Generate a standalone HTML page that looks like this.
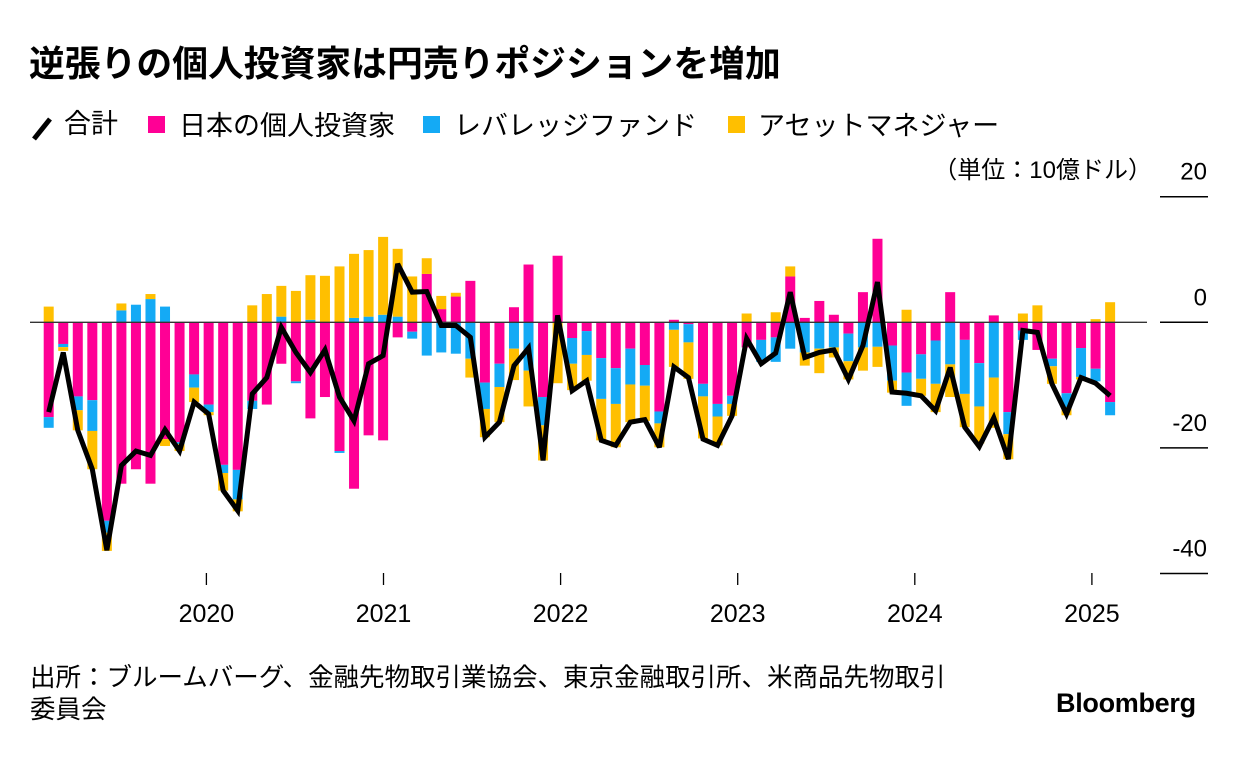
<!DOCTYPE html>
<html><head><meta charset="utf-8">
<style>
body{margin:0;background:#fff;width:1236px;height:766px;overflow:hidden;font-family:"Liberation Sans","Noto Sans CJK JP",sans-serif;color:#000}
.t{position:absolute;white-space:nowrap}
</style></head><body>
<div class="t" style="left:29px;top:38px;font-size:35.8px;font-weight:bold;font-family:'Noto Sans CJK JP',sans-serif;line-height:46px">逆張りの個人投資家は円売りポジションを増加</div>
<div style="position:absolute;left:30px;top:104px;font-size:27px;height:38px;">
  <div class="t" style="left:0;top:0">
    <svg width="24" height="36" style="vertical-align:middle"><line x1="4" y1="29" x2="20" y2="9" stroke="#000" stroke-width="5"/></svg><span style="position:relative;top:-2px;margin-left:10px">合計</span></div>
  <div class="t" style="left:118px;top:0"><span style="display:inline-block;width:17px;height:17px;background:#ff0095;vertical-align:middle;position:relative;top:-3px"></span><span style="margin-left:14px">日本の個人投資家</span></div>
  <div class="t" style="left:393px;top:0"><span style="display:inline-block;width:17px;height:17px;background:#14aaf5;vertical-align:middle;position:relative;top:-3px"></span><span style="margin-left:14px">レバレッジファンド</span></div>
  <div class="t" style="left:698px;top:0"><span style="display:inline-block;width:17px;height:17px;background:#ffbf00;vertical-align:middle;position:relative;top:-3px"></span><span style="margin-left:13px">アセットマネジャー</span></div>
</div>
<div class="t" style="right:84px;top:150px;font-size:24px;">（単位：10億ドル）</div>
<svg id="chart" width="1236" height="766" style="position:absolute;left:0;top:0"></svg>
<div class="t" style="left:30px;top:662px;font-size:25.5px;line-height:32px;">出所：ブルームバーグ、金融先物取引業協会、東京金融取引所、米商品先物取引<br>委員会</div>
<div class="t" style="left:1056px;top:688px;font-size:27px;font-weight:bold;letter-spacing:-0.3px">Bloomberg</div>
<script>
const retail=[-15.1,-3.45,-11.8,-12.4,-31.6,-25.7,-23.4,-25.7,-18.6,-19.1,-8.3,-13.1,-22.7,-23.5,-12.5,-13.1,-6.6,-9.4,-15.3,-11.9,-20.5,-26.5,-18,-18.8,-2.4,-1.5,7.7,2.1,4.1,6.6,-9.6,-6.6,2.4,9.2,-11.9,10.6,-2.5,-1.4,-5.7,-7.3,-4.2,-6.8,-14.2,0.4,-0.3,-9.8,-13,-11.7,-4,-2.8,-2.4,7.3,0.7,3.4,1.2,-1.8,4.8,13.3,-3.7,-8,-5.1,-2.9,4.8,-2.8,-6.5,1.1,-14.3,-1.3,-4.4,-5.8,-11.3,-4.1,-7.4,-12.7];
const leveraged=[-1.7,-0.5,-2.2,-4.9,-1.9,1.9,2.8,3.7,2.5,-0.3,-2.1,-1.2,-1.3,-4.7,-1.3,0,0.9,-0.3,0.4,0,-0.3,0.7,0.9,1.2,0.9,-1.1,-5.3,-4.8,-5,-5.8,-4.2,-3.7,-4.2,-7.7,-4.5,0,-4.1,-3.8,-6.5,-5.7,-5.7,-3.3,-1.9,-1.2,-2.9,-2,-2,-1.3,0,-3.5,-3.9,-4.2,-4.8,-4.2,-4,-4.4,-4,-3.9,-5.6,-5.3,-3.9,-6.9,-6.7,-8.6,-6.9,-8.8,-3.5,-1.5,0,-1.2,-2.2,-4.6,-2,-2.1];
const assetMgr=[2.5,-0.6,-3.2,-6.1,-2.9,1.1,0,0.8,-1.1,-1.1,-2.3,-0.5,-2.8,-1.9,2.7,4.5,4.9,5,7.1,7.4,8.9,10.2,10.6,12.4,10.8,7.3,2.5,2.1,0.6,-3,-4.5,-5.6,-5,-5.7,-5.6,-9.7,-4.2,-4.1,-6.6,-6.9,-6,-5.6,-3.8,-5.9,-5.8,-6.7,-4.6,-1.9,1.4,0,1.6,1.6,-2.1,-3.9,-1.6,-2.9,-3.7,-3.2,-1.9,2,-2.7,-4.5,-5.2,-5.3,-5.9,-8,-4,1.4,2.7,-2.8,-1.3,-0.4,0.5,3.2];
const total=[-14.3,-4.8,-17.2,-23.4,-36.3,-22.8,-20.5,-21.2,-17.1,-20.5,-12.7,-14.6,-26.8,-30,-11.4,-8.8,-0.8,-4.8,-8,-4.4,-11.9,-15.7,-6.6,-5.3,9.3,4.8,4.9,-0.5,-0.5,-2.4,-18.3,-15.9,-6.9,-4.1,-22,1.1,-10.9,-9.3,-18.8,-19.6,-15.9,-15.5,-19.9,-7.1,-8.8,-18.6,-19.6,-14.9,-2.6,-6.6,-4.9,4.8,-5.6,-4.8,-4.4,-9.1,-3.7,6.4,-11.1,-11.3,-11.7,-14.1,-7.2,-16.7,-19.8,-15.2,-21.8,-1.3,-1.6,-9.8,-14.6,-8.8,-9.7,-11.7];
const yTicks=[20,0,-20,-40];
const yTickLabels=["20","0","-20","-40"];
const years=["2020","2021","2022","2023","2024","2025"];
const NS="http://www.w3.org/2000/svg";
const svg=document.getElementById('chart');
const y=v=>322.3-v*6.28;
const x=i=>48.7+i*14.54;
const xYear=k=>206.4+k*177.1;
function mk(t,a){const e=document.createElementNS(NS,t);for(const k in a)e.setAttribute(k,a[k]);svg.appendChild(e);return e;}
yTicks.forEach((v,k)=>{
  const l=mk('line',{x1:1160,x2:1208,y1:y(v),y2:y(v),stroke:'#000','stroke-width':1.5});
  
  
  const t=mk('text',{x:1207,y:y(v)-17,'text-anchor':'end','font-size':24,'font-family':'Liberation Sans, sans-serif'});
  t.textContent=yTickLabels[k];
  
  
});
years.forEach((s,k)=>{
  const l=mk('line',{x1:xYear(k),x2:xYear(k),y1:573,y2:585,stroke:'#000','stroke-width':1.3});
  
  
  const t=mk('text',{x:xYear(k),y:622,'text-anchor':'middle','font-size':25,'font-family':'Liberation Sans, sans-serif'});
  t.textContent=s;
  
  
});
const series=[[retail,'#ff0095'],[leveraged,'#14aaf5'],[assetMgr,'#ffbf00']];
for(let i=0;i<retail.length;i++){
  let pos=0,neg=0;
  series.forEach(([arr,c])=>{
    const v=arr[i]; if(!v)return;
    let a,b;
    if(v>0){a=pos;b=pos+v;pos=b;}else{a=neg;b=neg+v;neg=b;}
    const r=mk('rect',{x:x(i)-5,width:10,y:Math.min(y(a),y(b)),height:Math.abs(y(a)-y(b)),fill:c});
    
    
  });
}
const z=mk('line',{x1:30,x2:1147,y1:y(0),y2:y(0),stroke:'#333','stroke-width':1.3});


const p=mk('polyline',{points:total.map((v,i)=>x(i)+','+y(v)).join(' '),fill:'none',stroke:'#000','stroke-width':5,'stroke-linejoin':'miter','stroke-miterlimit':3});


</script>
</body></html>
